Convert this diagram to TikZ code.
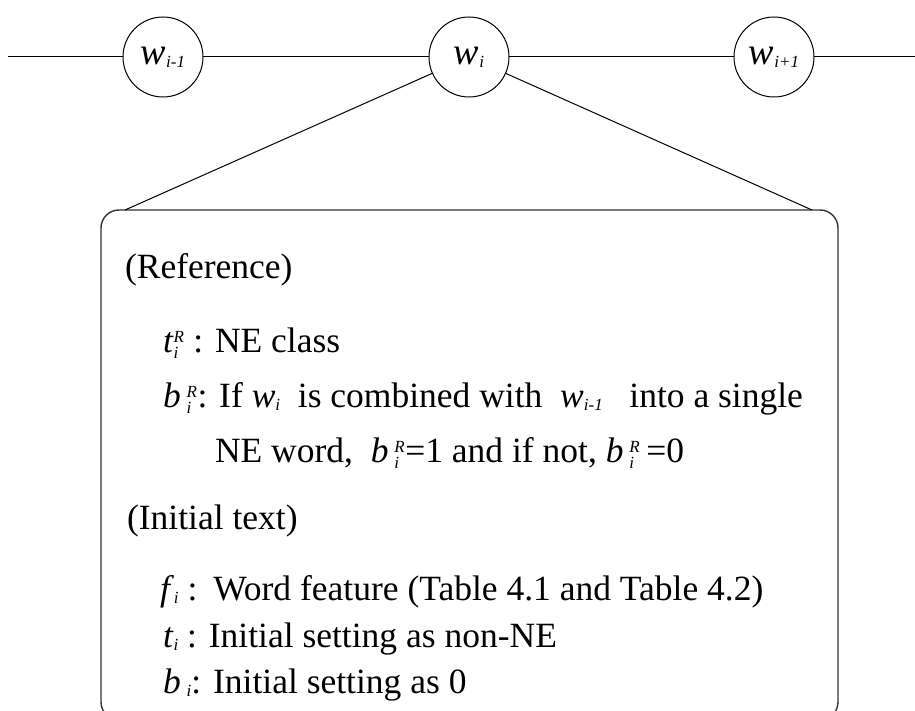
\documentclass[tikz,border=0pt]{standalone}
\usepackage{amsmath}
\usepackage{fontspec}
\setmainfont{Liberation Serif}
\newcommand\scsz{\fontsize{17}{17}\selectfont\itshape}
\newcommand\sbs[1]{\raisebox{-3pt}{\scsz #1}}
\newcommand\ps[2]{$^{\hbox{\scsz #1}}_{\hbox{\scsz #2}}$}
\begin{document}
\begin{tikzpicture}[x=1pt,y=-1pt,
  word/.style={draw,circle,minimum size=80pt,inner sep=0pt,outer sep=0pt,line width=1pt,font=\fontsize{38}{40}\selectfont},
  link/.style={line width=1pt},
  frame/.style={draw=black!80,line width=1.4pt,rounded corners=18pt,outer sep=0pt,inner sep=0pt,anchor=north west},
  txt/.style={anchor=base west,inner sep=0pt,outer sep=0pt,font=\fontsize{35.5}{40}\selectfont}]
\useasboundingbox (0,0) rectangle (915,711);
\clip (0,0) rectangle (915,711);
\coordinate (L) at (8,57);
\coordinate (R) at (930,57);
\node[word] (a) at (163,57) {\textit{w}\sbs{i-1}};
\node[word] (b) at (469,57) {\textit{w}\sbs{i}};
\node[word] (c) at (774,57) {\textit{w}\sbs{i+1}};
\draw[link] (L) -- (a) (a) -- (b) (b) -- (c) (c) -- (R);
\node[frame,minimum width=737pt,minimum height=510pt] (box) at (101,210) {};
\coordinate (bl) at ([xshift=24pt]box.north west);
\coordinate (br) at ([xshift=-26pt]box.north east);
\draw[link] (b) -- (bl);
\draw[link] (b) -- (br);
\node[txt] (l1) at (125,279) {(Reference)};
\node[txt] (l2) at (163,352) {\textit{t}\ps{R}{i} : NE class};
\node[txt] (l3) at (163,407) {\textit{b}\,\ps{R}{i}: If \textit{w}\sbs{i}\ \ is combined with \ \textit{w}\sbs{i-1}\ \ \ into a single};
\node[txt] (l4) at (215,462) {NE word, \ \textit{b}\,\ps{R}{i}=1 and if not, \textit{b}\,\ps{R}{i}\,=0};
\node[txt] (l5) at (127,529) {(Initial text)};
\node[txt] (l6) at (160,600) {\textit{f}\sbs{i} :\hspace{4pt} Word feature (Table 4.1 and Table 4.2)};
\node[txt] (l7) at (163,647) {\textit{t}\sbs{i} : Initial setting as non-NE};
\node[txt] (l8) at (163,693) {\textit{b}\,\sbs{i}: Initial setting as 0};
\end{tikzpicture}
\end{document}
